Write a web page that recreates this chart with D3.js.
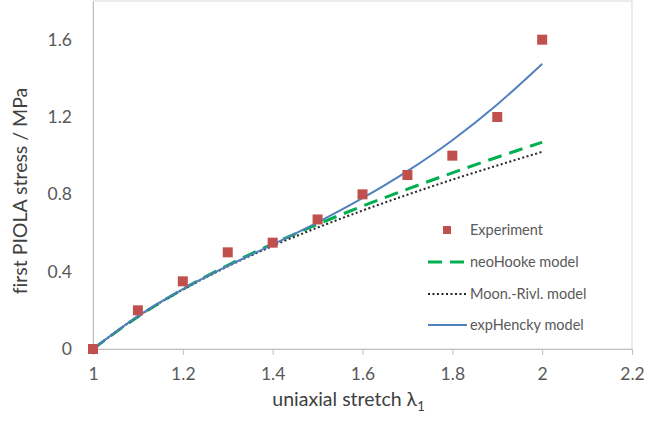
<!DOCTYPE html>
<html>
<head>
<meta charset="utf-8">
<script src="https://cdn.jsdelivr.net/npm/d3@7"></script>
<style>
  html, body { margin: 0; padding: 0; background: #fff; }
  svg text { font-family: Lato, "Open Sans", sans-serif; font-variant-ligatures: none; }
</style>
</head>
<body>
<svg id="chart" width="645" height="425"></svg>
<script>
// Uniaxial tension: stretch vs. first Piola stress
const stretch = [1.0, 1.1, 1.2, 1.3, 1.4, 1.5, 1.6, 1.7, 1.8, 1.9, 2.0];
const experiment = [0, 0.20, 0.35, 0.50, 0.55, 0.67, 0.80, 0.90, 1.00, 1.20, 1.60];
const neoHooke   = [0, 0.167, 0.309, 0.433, 0.544, 0.645, 0.739, 0.827, 0.911, 0.992, 1.069];
const mooneyRivlin = [0, 0.168, 0.307, 0.427, 0.533, 0.628, 0.716, 0.798, 0.876, 0.949, 1.020];
const expHencky  = [0, 0.170, 0.310, 0.430, 0.540, 0.655, 0.780, 0.920, 1.080, 1.265, 1.475];
const xTicks = [1, 1.2, 1.4, 1.6, 1.8, 2, 2.2];
const yTicks = [0, 0.4, 0.8, 1.2, 1.6];

const svg = d3.select("#chart");
const plotL = 93, plotR = 632, plotT = 1, plotB = 349;

const x = d3.scaleLinear().domain([1, 2.2]).range([plotL, plotR]);
const y = d3.scaleLinear().domain([0, 1.8]).range([plotB, plotT]);

// plot frame
svg.append("rect")
  .attr("x", plotL).attr("y", plotT)
  .attr("width", plotR - plotL).attr("height", plotB - plotT)
  .attr("fill", "none").attr("stroke", "#d9d9d9").attr("stroke-width", 1);

// x axis
const xAxis = svg.append("g").attr("transform", `translate(0,${plotB})`)
  .call(d3.axisBottom(x).tickValues(xTicks).tickFormat(d3.format("")).tickSize(6).tickPadding(13));
xAxis.select(".domain").attr("stroke", "#bfbfbf");
xAxis.selectAll(".tick line").attr("stroke", "#bfbfbf");
xAxis.selectAll("text").attr("fill", "#595959").attr("font-size", 17.5);

// y axis
const yAxis = svg.append("g").attr("transform", `translate(${plotL},0)`)
  .call(d3.axisLeft(y).tickValues(yTicks).tickFormat(d3.format("")).tickSize(0).tickPadding(21));
yAxis.select(".domain").attr("stroke", "#bfbfbf");
yAxis.selectAll("text").attr("fill", "#595959").attr("font-size", 17.5);

// axis titles
svg.append("text")
  .attr("transform", `translate(27,191) rotate(-90)`)
  .attr("text-anchor", "middle").attr("font-size", 19.5).attr("fill", "#404040")
  .text("first PIOLA stress / MPa");

const xt = svg.append("text")
  .attr("x", (plotL + plotR) / 2 - 14).attr("y", 406)
  .attr("text-anchor", "middle").attr("font-size", 19.5).attr("fill", "#404040");
xt.append("tspan").text("uniaxial stretch λ");
xt.append("tspan").attr("font-size", 13).attr("dy", 5).text("1");

const line = d3.line().x((d, i) => x(stretch[i])).y(d => y(d)).curve(d3.curveMonotoneX);

const models = [
  { name: "neoHooke model", values: neoHooke, color: "#00b050", width: 3, dash: "14,8" },
  { name: "Moon.-Rivl. model", values: mooneyRivlin, color: "#262626", width: 2, dash: "2,2.5" },
  { name: "expHencky model", values: expHencky, color: "#4f81bd", width: 2, dash: null }
];

models.forEach(m => {
  svg.append("path").datum(m.values)
    .attr("d", line)
    .attr("fill", "none")
    .attr("stroke", m.color)
    .attr("stroke-width", m.width)
    .attr("stroke-dasharray", m.dash);
});

// experimental points
svg.append("g").selectAll("rect").data(experiment).join("rect")
  .attr("x", (d, i) => x(stretch[i]) - 5)
  .attr("y", d => y(d) - 5)
  .attr("width", 10).attr("height", 10)
  .attr("fill", "#c0504d");

// legend
const lg = svg.append("g");
const rows = [230, 262, 294, 325];
lg.append("rect").attr("x", 443).attr("y", rows[0] - 4).attr("width", 8).attr("height", 8).attr("fill", "#c0504d");
models.forEach((m, i) => {
  lg.append("line")
    .attr("x1", 428).attr("x2", 467)
    .attr("y1", rows[i + 1]).attr("y2", rows[i + 1])
    .attr("stroke", m.color).attr("stroke-width", m.width)
    .attr("stroke-dasharray", m.dash);
});
["Experiment"].concat(models.map(m => m.name)).forEach((t, i) => {
  lg.append("text").attr("x", 470).attr("y", rows[i] + 5)
    .attr("font-size", 14.5).attr("fill", "#595959").text(t);
});
</script>
</body>
</html>
